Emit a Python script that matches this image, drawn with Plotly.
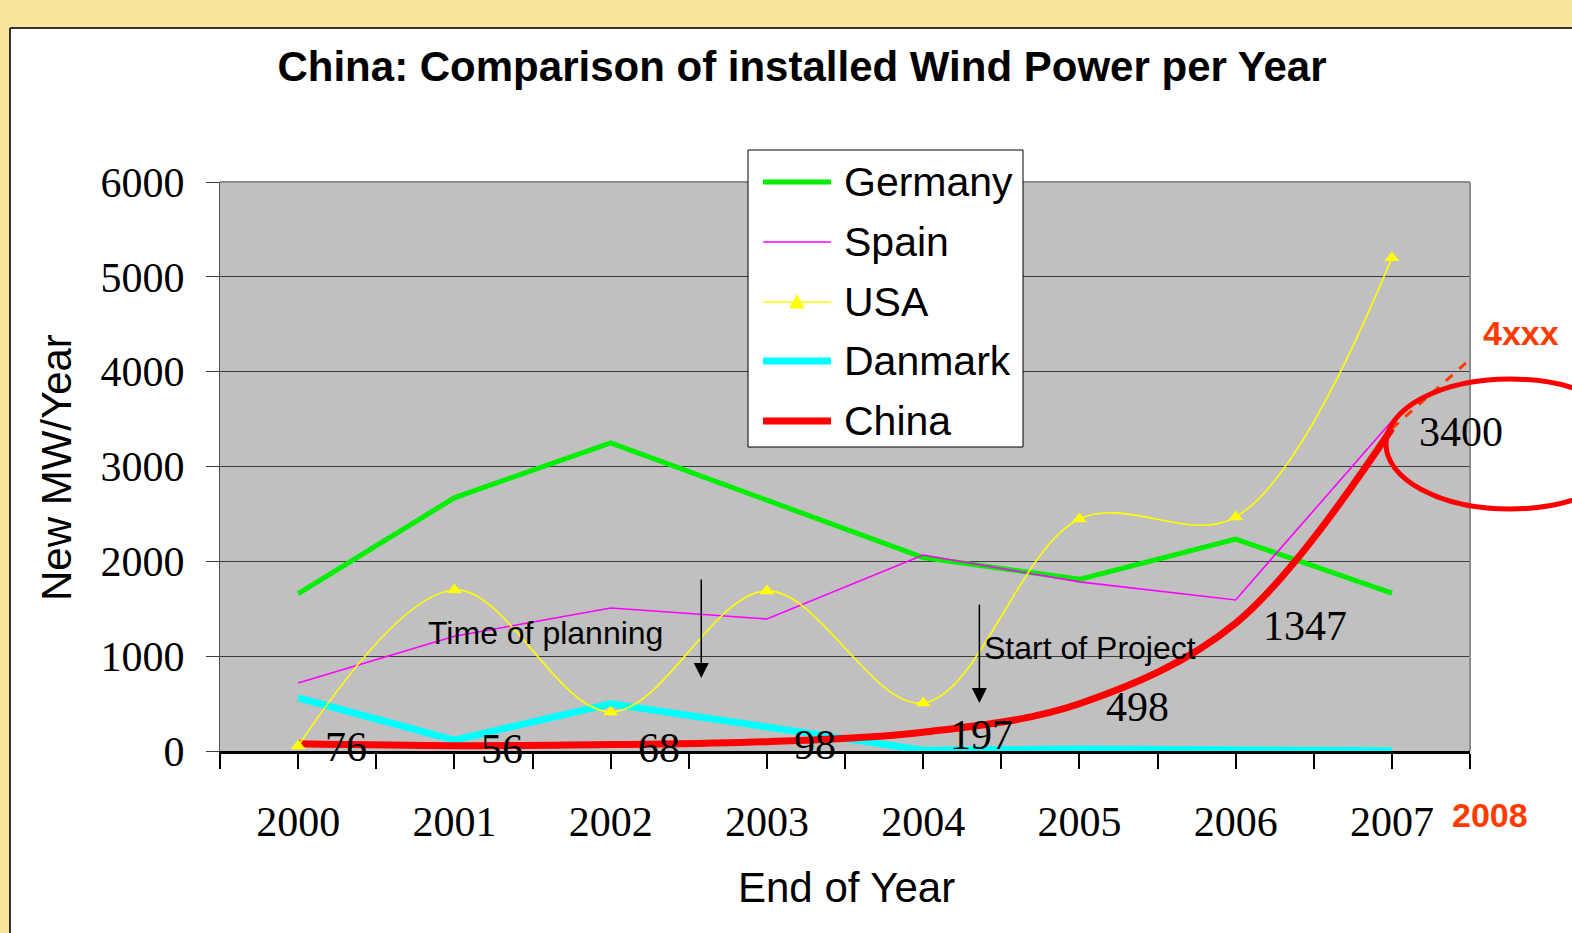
import plotly.graph_objects as go

# ---------------- data ----------------
years = [2000, 2001, 2002, 2003, 2004, 2005, 2006, 2007]
germany = [1660, 2670, 3250, 2645, 2040, 1810, 2235, 1665]
spain = [717, 1210, 1508, 1392, 2067, 1783, 1593, 3480]
usa = [53, 1698, 411, 1688, 506, 2447, 2468, 5200]
danmark = [560, 115, 497, 245, 9, 22, 12, 3]
china = [76, 56, 68, 98, 197, 498, 1347, 3400]
china_labels = ["76", "56", "68", "98", "197", "498", "1347", "3400"]
y_ticks = [0, 1000, 2000, 3000, 4000, 5000, 6000]
projection_x = [2007, 2007.48]
projection_y = [3400, 4100]
planning_arrow = {"x": 2002.58, "y_from": 1825, "y_to": 770}
project_arrow = {"x": 2004.36, "y_from": 1561, "y_to": 506}

# ---------------- geometry ----------------
W, H = 1572, 933
L, R, T, B = 220, 102, 182, 182
PW, PH = W - L - R, H - T - B


def px(xpix):
    return (xpix - L) / PW


def py(ypix):
    return (T + PH - ypix) / PH


SANS = "Liberation Sans, Arial, sans-serif"
SERIF = "Liberation Serif, Times New Roman, serif"
ORANGE_RED = "#FF3B00"

fig = go.Figure()

fig.add_trace(go.Scatter(x=years, y=germany, mode="lines", name="Germany",
                         line=dict(color="#00EE00", width=5)))
fig.add_trace(go.Scatter(x=years, y=spain, mode="lines", name="Spain",
                         line=dict(color="#FF00FF", width=1.6)))
fig.add_trace(go.Scatter(x=years, y=danmark, mode="lines", name="Danmark",
                         line=dict(color="#00FFFF", width=7)))
fig.add_trace(go.Scatter(x=years, y=china, mode="lines", name="China",
                         line=dict(color="#FF0000", width=7, shape="spline")))
fig.add_trace(go.Scatter(x=years, y=usa, mode="lines+markers", name="USA",
                         line=dict(color="#FFFF00", width=1.6, shape="spline"),
                         marker=dict(symbol="triangle-up", size=13, color="#FFFF00")))
fig.add_trace(go.Scatter(x=projection_x, y=projection_y, mode="lines", name="2008 projection",
                         line=dict(color=ORANGE_RED, width=3, dash="dash")))

for tr in fig.data:
    tr.showlegend = False
    tr.cliponaxis = False

# x ticks at every half category
tickvals = []
ticktext = []
for i, yr in enumerate(years):
    tickvals.append(yr - 0.5)
    ticktext.append("")
    tickvals.append(yr)
    ticktext.append(str(yr))
tickvals.append(years[-1] + 0.5)
ticktext.append("")

annotations = []
# China data labels
for yr, v, lab in zip(years, china, china_labels):
    annotations.append(dict(x=yr, y=v, xref="x", yref="y", text=lab, showarrow=False,
                            xanchor="left", yanchor="middle", xshift=25, yshift=-3,
                            font=dict(family=SERIF, size=42, color="black")))

# arrows
for arr in (planning_arrow, project_arrow):
    annotations.append(dict(x=arr["x"], y=arr["y_to"], ax=arr["x"], ay=arr["y_from"],
                            xref="x", yref="y", axref="x", ayref="y", text="",
                            showarrow=True, arrowhead=2, arrowsize=2, arrowwidth=1.5,
                            arrowcolor="black", standoff=0, startstandoff=0))

annotations.append(dict(x=2001.58, y=1245, xref="x", yref="y", text="Time of planning",
                        xanchor="center", yanchor="middle",
                        showarrow=False, font=dict(family=SANS, size=32, color="black")))
annotations.append(dict(x=2005.07, y=1087, xref="x", yref="y", text="Start of Project",
                        xanchor="center", yanchor="middle",
                        showarrow=False, font=dict(family=SANS, size=32, color="black")))

# axis titles
annotations.append(dict(x=px(57), y=py(468), xref="paper", yref="paper", text="New MW/Year",
                        textangle=-90, showarrow=False, xanchor="center", yanchor="middle",
                        font=dict(family=SANS, size=42, color="black")))
annotations.append(dict(x=px(846), y=py(887), xref="paper", yref="paper", text="End of Year",
                        showarrow=False, xanchor="center", yanchor="middle",
                        font=dict(family=SANS, size=42, color="black")))

# 2008 / 4xxx
annotations.append(dict(x=px(1490), y=py(815), xref="paper", yref="paper", text="<b>2008</b>",
                        showarrow=False, xanchor="center", yanchor="middle",
                        font=dict(family=SANS, size=34, color=ORANGE_RED)))
annotations.append(dict(x=px(1521), y=py(333), xref="paper", yref="paper", text="<b>4xxx</b>",
                        showarrow=False, xanchor="center", yanchor="middle",
                        font=dict(family=SANS, size=34, color=ORANGE_RED)))

shapes = []
# slide background border
shapes.append(dict(type="rect", xref="paper", yref="paper", x0=px(0), x1=px(W), y0=py(28), y1=py(0),
                   fillcolor="#F8E49A", line=dict(width=0), layer="below"))
shapes.append(dict(type="rect", xref="paper", yref="paper", x0=px(0), x1=px(10), y0=py(H), y1=py(0),
                   fillcolor="#F8E49A", line=dict(width=0), layer="below"))
shapes.append(dict(type="line", xref="paper", yref="paper", x0=px(10), x1=px(W), y0=py(28), y1=py(28),
                   line=dict(color="#333333", width=2)))
shapes.append(dict(type="line", xref="paper", yref="paper", x0=px(10), x1=px(10), y0=py(28), y1=py(H),
                   line=dict(color="#333333", width=2)))
# plot frame top/right
shapes.append(dict(type="line", xref="paper", yref="paper", x0=0, x1=1, y0=1, y1=1,
                   line=dict(color="#8C8C8C", width=2)))
shapes.append(dict(type="line", xref="paper", yref="paper", x0=1, x1=1, y0=0, y1=1,
                   line=dict(color="#8C8C8C", width=2)))
# highlight ellipse
shapes.append(dict(type="circle", xref="paper", yref="paper", x0=px(1386), x1=px(1634),
                   y0=py(509), y1=py(379), line=dict(color="#FF0000", width=5)))

# manual legend
shapes.append(dict(type="rect", xref="paper", yref="paper", x0=px(748), x1=px(1023),
                   y0=py(447), y1=py(150), fillcolor="white", line=dict(color="black", width=1)))
legend_items = [("Germany", "#00EE00", 5, 182), ("Spain", "#FF00FF", 1.6, 242),
                ("USA", "#FFFF00", 1.6, 302), ("Danmark", "#00FFFF", 7, 361),
                ("China", "#FF0000", 7, 421)]
for name, col, wid, ypix in legend_items:
    shapes.append(dict(type="line", xref="paper", yref="paper", x0=px(763), x1=px(831),
                       y0=py(ypix), y1=py(ypix), line=dict(color=col, width=wid)))
    annotations.append(dict(x=px(842), y=py(ypix), xref="paper", yref="paper", text=name,
                            xanchor="left", yanchor="middle", showarrow=False,
                            font=dict(family=SANS, size=41, color="black")))
    if name == "USA":
        path = "M {a},{b} L {c},{d} L {e},{d} Z".format(
            a=px(797), b=py(295), c=px(790), d=py(308), e=px(804))
        shapes.append(dict(type="path", xref="paper", yref="paper", path=path,
                           fillcolor="#FFFF00", line=dict(color="#FFFF00", width=1)))

fig.update_layout(
    width=W, height=H,
    margin=dict(l=L, r=R, t=T, b=B, autoexpand=False),
    paper_bgcolor="white",
    plot_bgcolor="#C0C0C0",
    title=dict(text="<b>China: Comparison of installed Wind Power per Year</b>",
               x=802 / W, xref="container", xanchor="center",
               y=1 - 66 / H, yref="container", yanchor="middle",
               font=dict(family=SANS, size=42, color="black")),
    xaxis=dict(range=[years[0] - 0.5, years[-1] + 0.5], tickvals=tickvals, ticktext=ticktext,
               showgrid=False, zeroline=False, ticks="outside", ticklen=15, tickwidth=1.5,
               tickcolor="black", showline=True, linecolor="black", linewidth=2.5,
               ticklabelstandoff=17,
               tickfont=dict(family=SERIF, size=42, color="black")),
    yaxis=dict(range=[0, 6000], tickvals=y_ticks, showgrid=True, gridcolor="#3C3C3C",
               gridwidth=1, zeroline=False, ticks="outside", ticklen=13, tickwidth=1,
               tickcolor="#3C3C3C", showline=True, linecolor="#505050", linewidth=1,
               ticklabelstandoff=13,
               tickfont=dict(family=SERIF, size=42, color="black")),
    annotations=annotations,
    shapes=shapes,
    showlegend=False,
)

fig.write_html("out.html", config={"displayModeBar": False},
               post_script="document.body.style.margin='0';document.body.style.overflow='hidden';")
